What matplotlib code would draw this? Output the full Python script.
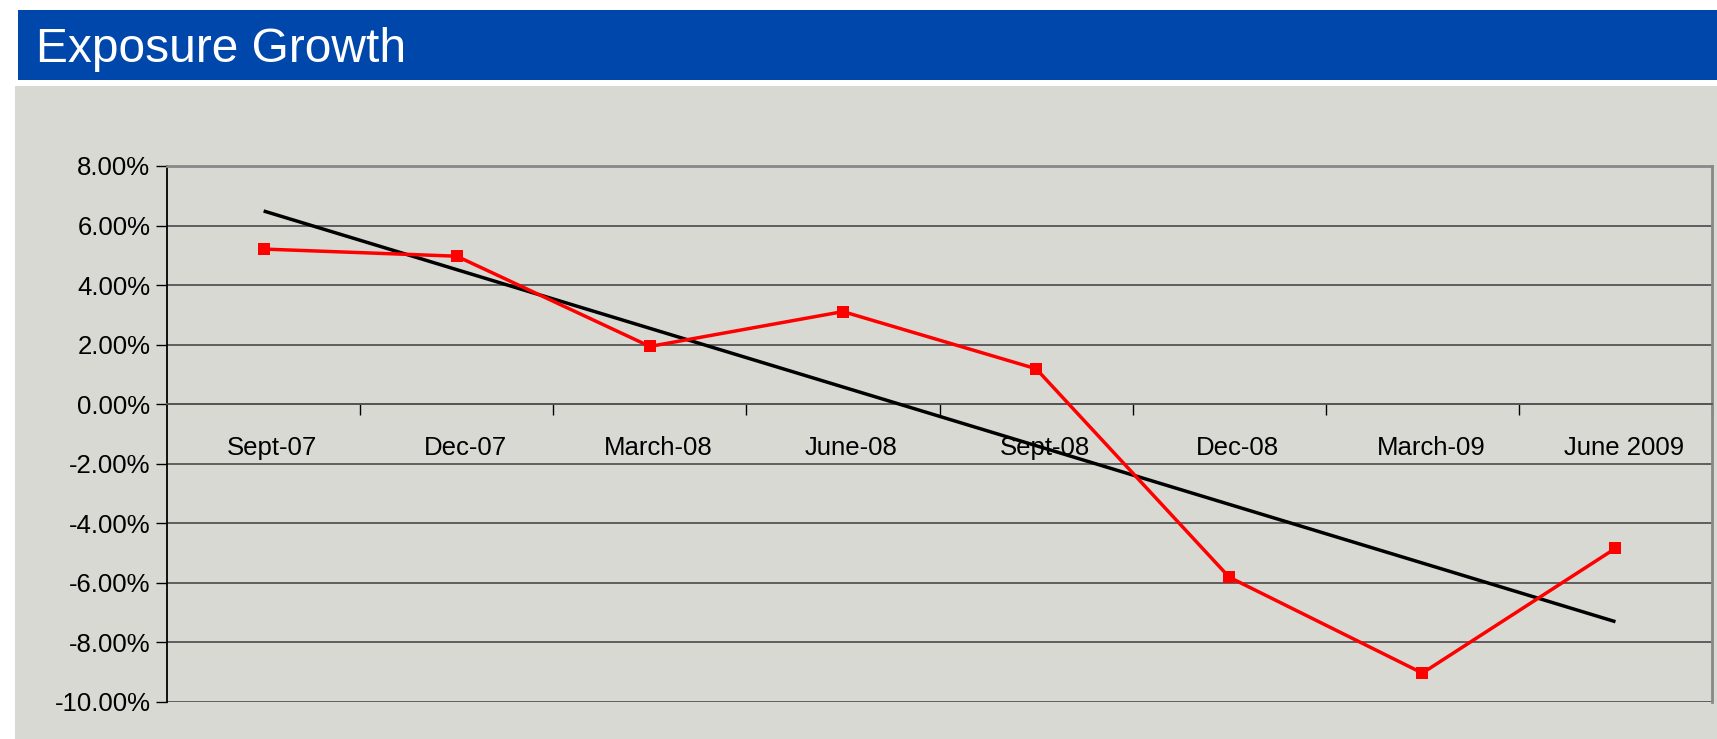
import numpy as np
import matplotlib

matplotlib.use("Agg")
import matplotlib.pyplot as plt
from matplotlib.patches import Rectangle
from matplotlib.ticker import FixedLocator, FuncFormatter
from matplotlib.transforms import ScaledTranslation

plt.rcParams["font.family"] = ["Liberation Sans", "DejaVu Sans"]

# exposure growth per quarter, in percent
quarters = ["Sept-07", "Dec-07", "March-08", "June-08", "Sept-08", "Dec-08", "March-09", "June 2009"]
growth_pct = [5.21, 4.97, 1.94, 3.11, 1.19, -5.81, -9.03, -4.84]
y_ticks = [8, 6, 4, 2, 0, -2, -4, -6, -8, -10]
title = "Exposure Growth"

x = np.arange(len(quarters))
slope, intercept = np.polyfit(x, growth_pct, 1)  # linear trendline, as in the source sheet
trend = slope * x + intercept

fig = plt.figure(figsize=(17.17, 7.39), dpi=100)
fig.patch.set_facecolor("white")

# grey panel and blue title banner, kept behind the axes
fig.patches.append(Rectangle((0.0085, 0.0), 0.9915, 0.8836, transform=fig.transFigure,
                             facecolor="#d9d9d4", edgecolor="none", zorder=-2))
fig.patches.append(Rectangle((0.0103, 0.8918), 0.9897, 0.0947, transform=fig.transFigure,
                             facecolor="#0047ab", edgecolor="none", zorder=-2))
fig.text(0.0212, 0.9157, title, color="white", fontsize=34.5, va="baseline", ha="left")

ax = fig.add_axes([0.0973, 0.0501, 0.8998, 0.7253])
ax.set_facecolor("#d9d9d4")

ax.plot(x, trend, color="black", linewidth=2.5, solid_capstyle="butt", zorder=3)
ax.plot(x, growth_pct, color="#ff0000", linewidth=2.5, marker="s", markersize=9.2,
        markeredgewidth=0, zorder=4)

ax.set_xlim(-0.5, len(quarters) - 0.5)
ax.set_ylim(-10, 8)

ax.yaxis.set_major_locator(FixedLocator(y_ticks))
ax.yaxis.set_major_formatter(FuncFormatter(lambda v, _: f"{v:.2f}%"))
ax.grid(axis="y", color="#555555", linewidth=1.3)
ax.set_axisbelow(True)

# category axis sits on the zero line, with ticks between categories
ax.spines["bottom"].set_position(("data", 0))
ax.spines["bottom"].set_color("#555555")
ax.spines["bottom"].set_linewidth(1.3)
ax.xaxis.set_major_locator(FixedLocator(np.arange(0.5, len(quarters) - 0.5 + 1e-9, 1.0)))
ax.xaxis.set_major_formatter(FuncFormatter(lambda v, _: ""))
ax.set_xticks(x, quarters, minor=True)
ax.tick_params(axis="x", which="major", direction="out", length=8, width=1, color="black")
ax.tick_params(axis="x", which="minor", length=0, pad=23, labelsize=18.5)
ax.tick_params(axis="y", direction="out", length=8, width=1, color="black", labelsize=18.5, pad=4)

# the source chart draws category labels a little right of centre
nudge = ScaledTranslation(8.5 / 100, 0, fig.dpi_scale_trans)
for label in ax.get_xticklabels(minor=True):
    label.set_transform(label.get_transform() + nudge)

ax.spines["left"].set_color("black")
ax.spines["left"].set_linewidth(1.3)
for side in ("top", "right"):
    ax.spines[side].set_color("#888888")
    ax.spines[side].set_linewidth(2)

fig.savefig("out.png", dpi=100, facecolor=fig.get_facecolor())
